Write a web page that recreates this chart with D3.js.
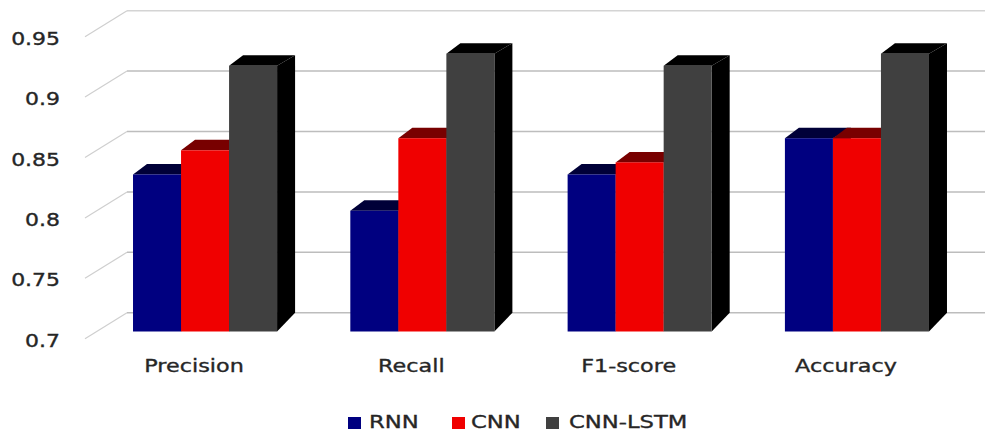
<!DOCTYPE html>
<html>
<head>
<meta charset="utf-8">
<script src="https://cdn.jsdelivr.net/npm/d3@7"></script>
<style>
html,body{margin:0;padding:0;background:#fff}
svg{display:block}
text{font-family:"DejaVu Sans",sans-serif;fill:#262626;stroke:#262626;stroke-width:0.35}
</style>
</head>
<body>
<svg id="chart" width="985" height="431"></svg>
<script>
// Metric values per model
const categories = ["Precision", "Recall", "F1-score", "Accuracy"];
const seriesNames = ["RNN", "CNN", "CNN-LSTM"];
const rnn = [0.83, 0.80, 0.83, 0.86];
const cnn = [0.85, 0.86, 0.84, 0.86];
const cnnLstm = [0.92, 0.93, 0.92, 0.93];
const yTicks = [0.7, 0.75, 0.8, 0.85, 0.9, 0.95];
const yTickLabels = ["0.7", "0.75", "0.8", "0.85", "0.9", "0.95"];

const seriesValues = [rnn, cnn, cnnLstm];
const frontColors = ["#000080", "#f00000", "#404040"];
const topColors = ["#000038", "#780000", "#000000"];
const sideColors = ["#000040", "#700000", "#000000"];

const svg = d3.select("#chart");

// Front plane of the 3D box
const y = d3.scaleLinear().domain([0.7, 0.95]).range([331.5, 29.5]);
// Back wall sits up and to the right of the front plane
const wallRise = 18.8;
const floorLeft = 85, wallLeft = 127, wallRight = 985;
const diagonalDrop = 26;

const x0 = d3.scaleBand().domain(categories).range([96.4, 965.6]).paddingInner(0.337).paddingOuter(0.1685);
const x1 = d3.scaleBand().domain(seriesNames).range([0, x0.bandwidth()]);

// Extrusion of a bar: top-edge offset, rear offset
const depthX = 14, depthXRight = 18, depthTop = 10.5;

const line = d3.line();

// Back wall gridlines
const grid = svg.append("g").attr("fill", "none");
grid.selectAll("path.wall").data(yTicks).join("path")
  .attr("class", "wall")
  .attr("d", t => line([[wallLeft, y(t) - wallRise], [wallRight, y(t) - wallRise]]))
  .attr("stroke", t => t === 0.95 ? "#d4d4d4" : "#bdbdbd")
  .attr("stroke-width", 1.5);

// Diagonal run of each gridline on the side wall
grid.selectAll("path.side").data(yTicks).join("path")
  .attr("class", "side")
  .attr("d", t => {
    const back = y(t) - wallRise;
    return line([[floorLeft, back + diagonalDrop], [wallLeft, back]]);
  })
  .attr("stroke", "#cfcfcf")
  .attr("stroke-width", 1.2);

// Value axis labels
svg.append("g").selectAll("text").data(yTicks).join("text")
  .attr("transform", t => `translate(60,${y(t) - wallRise + 34}) scale(1.22,1)`)
  .attr("text-anchor", "end")
  .attr("font-size", 18)
  .text((t, i) => yTickLabels[i]);

// Bars, drawn series by series so each front hides its neighbour's side
const groups = svg.append("g").selectAll("g").data(categories).join("g")
  .attr("transform", c => `translate(${x0(c)},0)`);

seriesNames.forEach((name, s) => {
  const bars = groups.append("g").datum((c, i) => ({ name, value: seriesValues[s][i] }));
  const left = x1(name), right = left + x1.bandwidth();

  bars.append("path")
    .attr("fill", sideColors[s])
    .attr("d", d => line([
      [right, y(d.value)],
      [right + depthXRight, y(d.value) - depthTop],
      [right + depthXRight, y(0.7) - wallRise],
      [right, y(0.7)]
    ]) + "Z");

  bars.append("path")
    .attr("fill", topColors[s])
    .attr("d", d => line([
      [left, y(d.value)],
      [left + depthX, y(d.value) - depthTop],
      [right + depthXRight, y(d.value) - depthTop],
      [right, y(d.value)]
    ]) + "Z");

  bars.append("rect")
    .attr("fill", frontColors[s])
    .attr("x", left)
    .attr("width", x1.bandwidth())
    .attr("y", d => y(d.value))
    .attr("height", d => y(0.7) - y(d.value));
});

// Category labels
svg.append("g").selectAll("text").data(categories).join("text")
  .attr("transform", c => `translate(${x0(c) + x0.bandwidth() / 2 - 11},372) scale(1.24,1)`)
  .attr("text-anchor", "middle")
  .attr("font-size", 18)
  .text(c => c);

// Legend
const legendSwatchX = [348, 452, 546];
const legendTextX = [369, 471, 569];
const legend = svg.append("g").selectAll("g").data(seriesNames).join("g");
legend.append("rect")
  .attr("x", (d, i) => legendSwatchX[i])
  .attr("y", 417)
  .attr("width", 13)
  .attr("height", 12)
  .attr("fill", (d, i) => frontColors[i]);
legend.append("text")
  .attr("transform", (d, i) => `translate(${legendTextX[i]},428) scale(1.26,1)`)
  .attr("font-size", 18)
  .text(d => d);
</script>
</body>
</html>
